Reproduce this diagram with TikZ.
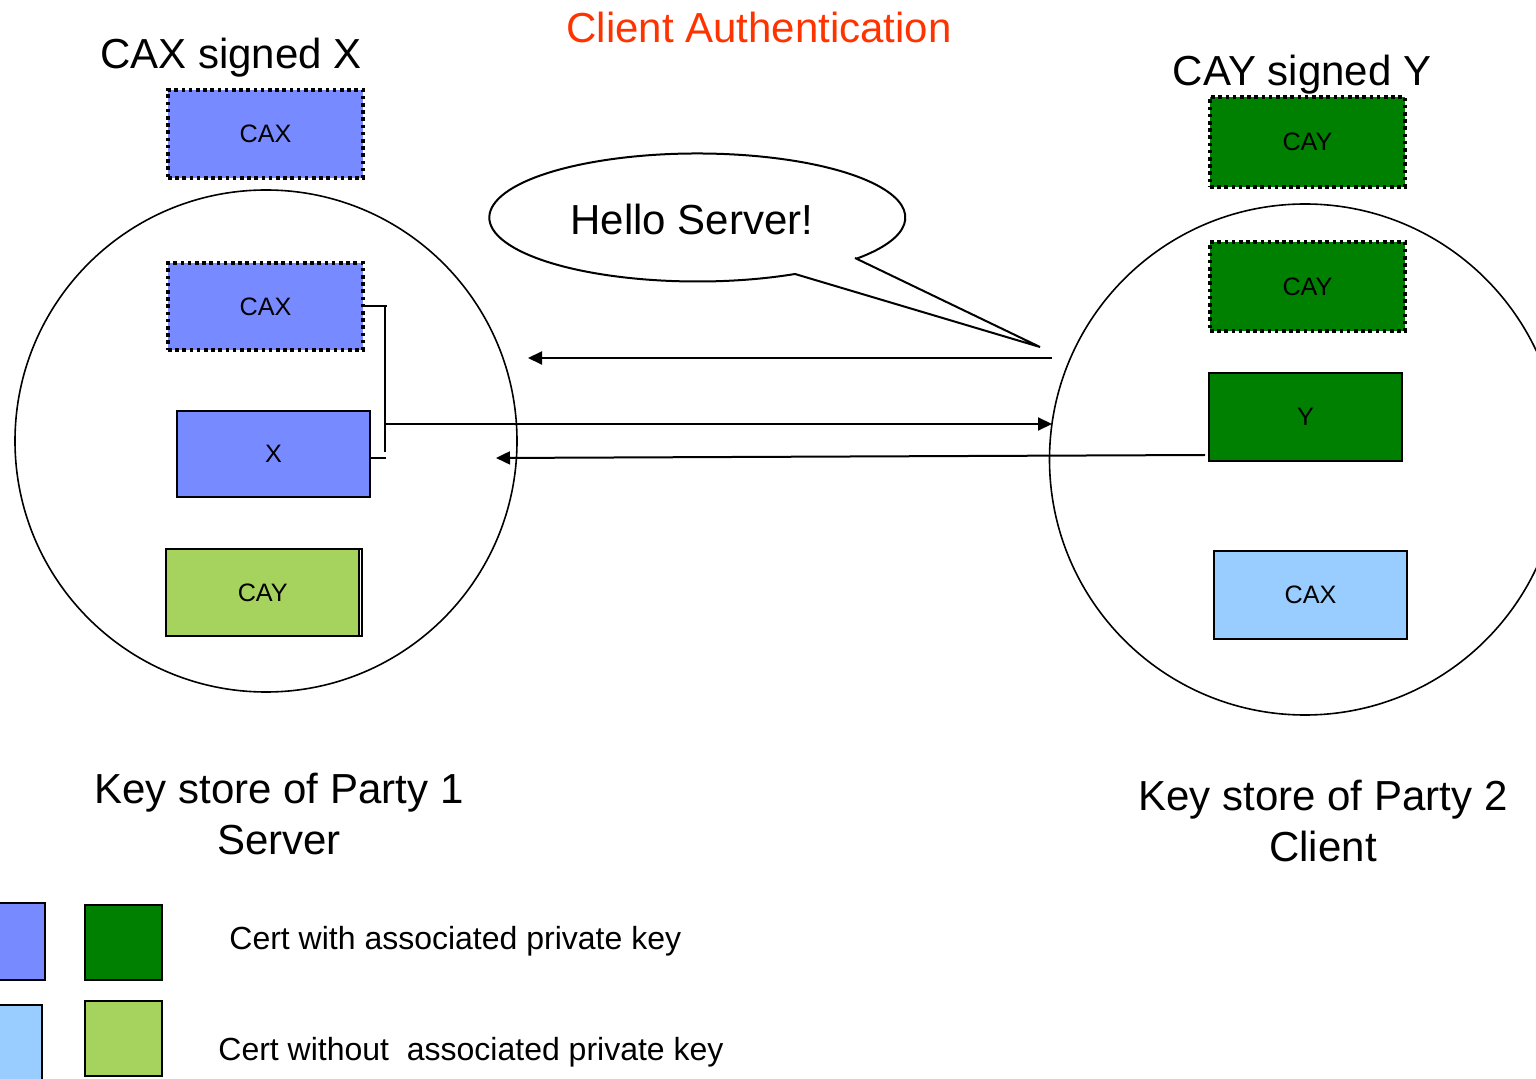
\documentclass[tikz,border=0pt]{standalone}
\usepackage{fontspec}
\setmainfont{Liberation Sans}
\usetikzlibrary{arrows.meta}
\definecolor{certblue}{RGB}{120,138,255}
\definecolor{certgreen}{RGB}{0,128,0}
\definecolor{lightgreen}{RGB}{166,211,94}
\definecolor{lightblue}{RGB}{153,204,255}
\definecolor{titlered}{RGB}{255,51,0}
\tikzset{
  cert/.style={draw=black, line width=1pt, inner sep=0pt, font=\fontsize{12.6}{14}\selectfont},
  dotcert/.style={cert, line width=1.8pt, dash pattern=on 1.8pt off 1.8pt},
  bigtext/.style={inner sep=0pt, font=\fontsize{21}{25.5}\selectfont, align=center},
  legtext/.style={inner sep=0pt, anchor=west, font=\fontsize{16}{19}\selectfont},
  store/.style={circle, draw, line width=0.8pt, inner sep=0pt},
  arr/.style={line width=1pt, -{Triangle[length=7pt,width=6.5pt]}},
  plain/.style={line width=1pt}
}
\begin{document}
\begin{tikzpicture}[x=0.5pt,y=-0.5pt]
\useasboundingbox (0,0) rectangle (1536,1079);
\clip (0,0) rectangle (1536,1079);

% titles
\node[bigtext, text=titlered] (title) at (759,27) {Client Authentication};
\node[bigtext] (caxsigned) at (231,58) {CAX signed X};
\node[bigtext] (caysigned) at (1302,75) {CAY signed Y};

% key store circles
\node[store, minimum size=251pt] (ks1) at (266,441) {};
\node[store, minimum size=255.5pt] (ks2) at (1305,459.5) {};

% left certificates
\node[dotcert, fill=certblue, minimum width=97.5pt, minimum height=44pt] (caxA) at (265.5,134) {CAX};
\node[dotcert, fill=certblue, minimum width=97.5pt, minimum height=43.5pt] (caxB) at (265.5,306.5) {CAX};
\node[cert, fill=certblue, minimum width=96.5pt, minimum height=43pt] (xbox) at (273.5,454) {X};
\node[cert, fill=white, minimum width=98pt, minimum height=43.5pt] (cayLs) at (264,592.5) {};
\node[cert, fill=lightgreen, minimum width=96.5pt, minimum height=43.5pt] (cayL) at (262.75,592.5) {CAY};

% right certificates
\node[dotcert, fill=certgreen, minimum width=97.5pt, minimum height=45pt] (cayA) at (1307.5,142) {CAY};
\node[dotcert, fill=certgreen, minimum width=97.5pt, minimum height=44.5pt] (cayB) at (1307.5,286.5) {CAY};
\node[cert, fill=certgreen, minimum width=96.5pt, minimum height=44pt] (ybox) at (1305.5,417) {Y};
\node[cert, fill=lightblue, minimum width=96.5pt, minimum height=44pt] (caxR) at (1310.5,595) {CAX};

% speech bubble
\draw[line width=1pt, fill=white] (855,258) -- (1040,347) -- (795,274)
  arc[start angle=62, end angle=400, x radius=208, y radius=64] -- cycle;
\node[bigtext] (hello) at (692,219) {Hello Server!};

% bracket joining CAX and X
\coordinate (brtop) at (385,306.5);
\coordinate (brbot) at (385,452);
\coordinate (brmid) at (385,424);
\coordinate (xend) at (386,458);
\draw[plain] (caxB.east) -- (387,306.5);
\draw[plain] (brtop) -- (brbot);
\draw[plain] (xbox.east |- xend) -- (xend);

% messages
\coordinate (m1s) at (1052,358);
\coordinate (m1e) at (528,358);
\coordinate (m2e) at (1052,424);
\coordinate (m3s) at (1205,455);
\coordinate (m3e) at (496,458);
\draw[arr] (m1s) -- (m1e);
\draw[arr] (brmid) -- (m2e);
\draw[arr] (m3s) -- (m3e);

% captions
\node[bigtext] (party1) at (279,814) {Key store of Party 1\\Server};
\node[bigtext] (party2) at (1323,821) {Key store of Party 2\\Client};

% legend
\node[cert, fill=certblue, minimum width=38.5pt, minimum height=38.5pt] (lgA) at (6.5,941.5) {};
\node[cert, fill=certgreen, minimum width=38.5pt, minimum height=37.5pt] (lgB) at (123.5,942.5) {};
\node[cert, fill=lightblue, minimum width=38.5pt, minimum height=40pt] (lgC) at (3.5,1045) {};
\node[cert, fill=lightgreen, minimum width=38.5pt, minimum height=37.5pt] (lgD) at (123.5,1038.5) {};
\node[legtext] (lgtext1) at (229,941) {Cert with associated private key};
\node[legtext] (lgtext2) at (218,1052) {Cert without\ \ associated private key};
\end{tikzpicture}
\end{document}
